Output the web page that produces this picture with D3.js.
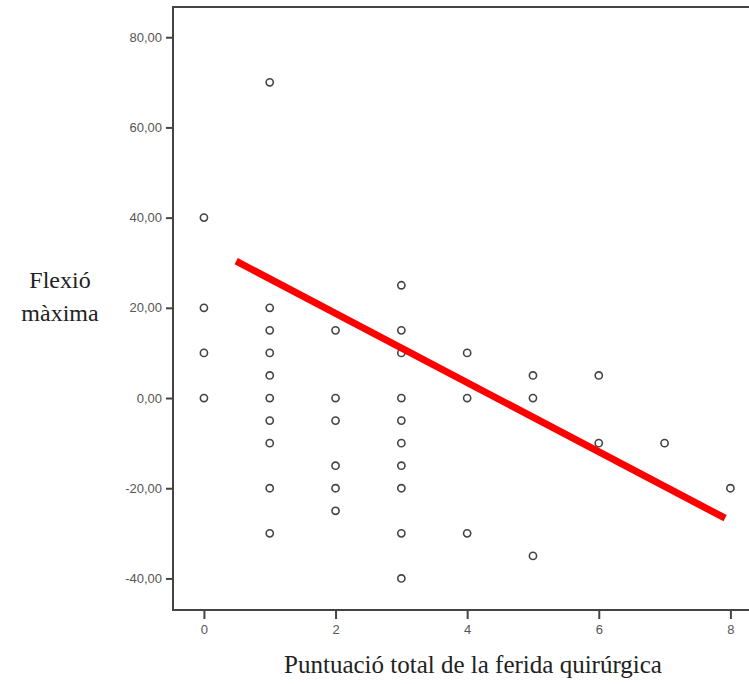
<!DOCTYPE html>
<html>
<head>
<meta charset="utf-8">
<script src="https://cdn.jsdelivr.net/npm/d3@7"></script>
<style>
  body { margin: 0; background: #fff; }
  .tick text { font-family: "Liberation Sans", Arial, sans-serif; font-size: 13px; fill: #555; }
  .title { font-family: "Liberation Serif", "Times New Roman", serif; fill: #222; }
</style>
</head>
<body>
<div id="chart"></div>
<script>
// scores (x) and maximum flexion (y) per patient
const scoreValues = [0, 0, 0, 0,
  1, 1, 1, 1, 1, 1, 1, 1, 1, 1,
  2, 2, 2, 2, 2, 2,
  3, 3, 3, 3, 3, 3, 3, 3, 3, 3,
  4, 4, 4,
  5, 5, 5,
  6, 6,
  7,
  8];
const flexionValues = [40, 20, 10, 0,
  70, 20, 15, 10, 5, 0, -5, -10, -20, -30,
  15, 0, -5, -15, -20, -25,
  25, 15, 10, 0, -5, -10, -15, -20, -30, -40,
  10, 0, -30,
  5, 0, -35,
  5, -10,
  -10,
  -20];
const xTicks = [0, 2, 4, 6, 8];
const yTicks = [-40, -20, 0, 20, 40, 60, 80];
// fitted line as drawn: intercept, slope, x extent
const fitIntercept = 34.1;
const fitSlope = -7.67;
const fitExtent = [0.49, 7.92];

const width = 749;
const height = 684;
const margin = { top: 7, right: 0, bottom: 74, left: 173 };

const svg = d3.select('#chart').append('svg')
  .attr('width', width)
  .attr('height', height);

const x = d3.scaleLinear().domain([-0.47, 8.45]).range([margin.left, 760]);
const y = d3.scaleLinear().domain([-47.0, 86.7]).range([height - margin.bottom, margin.top]);

// SPSS style: two decimals, comma, plain hyphen for minus
const fmt = (d) => d.toFixed(2).replace('.', ',');

// frame
svg.append('rect')
  .attr('x', x.range()[0])
  .attr('y', y.range()[1])
  .attr('width', x.range()[1] - x.range()[0])
  .attr('height', y.range()[0] - y.range()[1])
  .attr('fill', 'none')
  .attr('stroke', '#444')
  .attr('stroke-width', 2);

const xAxis = svg.append('g')
  .attr('transform', `translate(0, ${y.range()[0]})`)
  .call(d3.axisBottom(x).tickValues(xTicks).tickSize(9).tickPadding(6).tickFormat(d3.format('d')));
xAxis.select('.domain').remove();
xAxis.selectAll('.tick line').attr('stroke', '#444').attr('stroke-width', 2);

const yAxis = svg.append('g')
  .attr('transform', `translate(${x.range()[0]}, 0)`)
  .call(d3.axisLeft(y).tickValues(yTicks).tickSize(7).tickPadding(4).tickFormat(fmt));
yAxis.select('.domain').remove();
yAxis.selectAll('.tick line').attr('stroke', '#444').attr('stroke-width', 2);

// points
svg.append('g').selectAll('circle')
  .data(scoreValues.map((s, i) => [s, flexionValues[i]]))
  .join('circle')
  .attr('cx', (d) => x(d[0]))
  .attr('cy', (d) => y(d[1]))
  .attr('r', 3.6)
  .attr('fill', 'none')
  .attr('stroke', '#444')
  .attr('stroke-width', 1.6);

// fit line
svg.append('line')
  .attr('x1', x(fitExtent[0]))
  .attr('y1', y(fitIntercept + fitSlope * fitExtent[0]))
  .attr('x2', x(fitExtent[1]))
  .attr('y2', y(fitIntercept + fitSlope * fitExtent[1]))
  .attr('stroke', '#ff0000')
  .attr('stroke-width', 7);

// titles
const yTitle = svg.append('text')
  .attr('class', 'title')
  .attr('text-anchor', 'middle')
  .attr('font-size', 24);
yTitle.append('tspan').attr('x', 60).attr('y', 288).text('Flexió');
yTitle.append('tspan').attr('x', 60).attr('y', 321).text('màxima');

svg.append('text')
  .attr('class', 'title')
  .attr('x', 473)
  .attr('y', 673)
  .attr('text-anchor', 'middle')
  .attr('font-size', 25)
  .text('Puntuació total de la ferida quirúrgica');
</script>
</body>
</html>
